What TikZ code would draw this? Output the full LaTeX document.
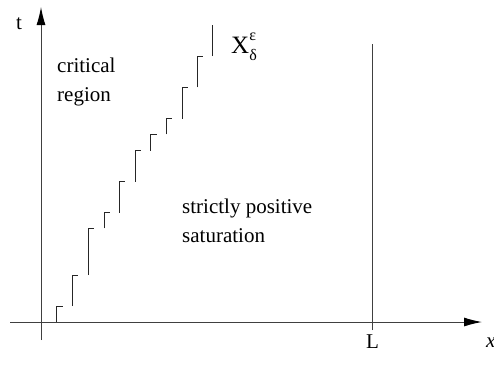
\documentclass[tikz,border=0pt]{standalone}
\usepackage{fontspec}
\setmainfont{Liberation Serif}
\usetikzlibrary{arrows.meta}
\tikzset{
  axisline/.style={line width=1pt, black!75, -{Latex[length=18pt,width=9pt,color=black]}},
  plainline/.style={line width=1pt, black!75},
  stair/.style={line width=1pt, black!85},
  lbl/.style={inner sep=0pt, anchor=base west, font=\fontsize{21}{21}\selectfont},
}
\begin{document}
\begin{tikzpicture}[x=1pt,y=-1pt]
\useasboundingbox (0,0) rectangle (494,368);
% axes
\coordinate (tb) at (41,340);
\coordinate (tt) at (41,7);
\coordinate (xl) at (10,322);
\coordinate (xr) at (482,322);
\coordinate (Lb) at (372,330);
\coordinate (Lt) at (372,44);
\draw[axisline] (tb) -- (tt);
\draw[axisline] (xl) -- (xr);
\draw[plainline] (Lb) -- (Lt);
% staircase
\foreach \x/\ya/\yb in {56.7/321.7/306, 72.3/306/275, 88.3/275/228.3, 104/228.3/212.7,
  119/212.7/181.7, 135/181.7/150.7, 150.7/150.7/134.3, 166/134.3/118.7,
  182/118.7/87.3, 197.3/87.3/56}
  \draw[stair] (\x,\ya) -- (\x,\yb) -- (\x+6,\yb);
\draw[stair] (212.7,56) -- (212.7,25);
% labels
\node[lbl] (tlab) at (16,29) {t};
\node[lbl] (xlab) at (486,347) {\itshape x};
\node[lbl] (Llab) at (366,348) {L};
\node[lbl] (crit) at (57,72) {critical};
\node[lbl] (reg) at (57,101) {region};
\node[lbl] (strict) at (182,213) {strictly positive};
\node[lbl] (sat) at (182,242) {saturation};
\node[lbl, font=\fontsize{25}{25}\selectfont] (Xlab) at (231,53)
  {X\rlap{\raisebox{-7pt}{\fontsize{16}{16}\selectfont δ}}\raisebox{13pt}{\fontsize{16}{16}\selectfont ε}};
\end{tikzpicture}
\end{document}
